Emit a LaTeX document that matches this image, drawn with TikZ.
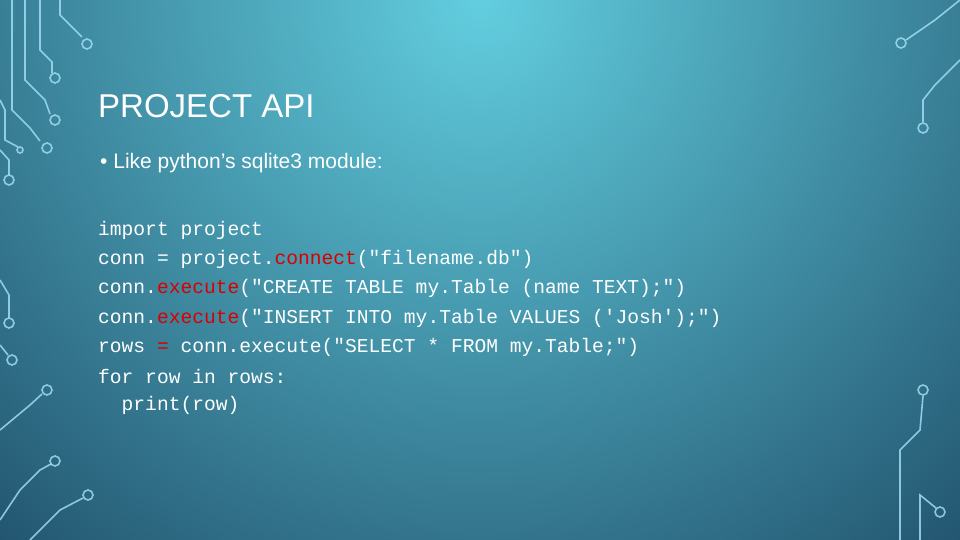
\documentclass[tikz,border=0pt]{standalone}
\usepackage{fontspec}
\setmainfont{Liberation Sans}
\setmonofont{Liberation Mono}
\begin{document}
\begin{tikzpicture}[x=1pt,y=-1pt,
  circ/.style={draw=cyan!35!white,line width=1.6pt,opacity=0.8},
  code/.style={anchor=west,inner sep=0,font=\ttfamily\fontsize{19.6}{20}\selectfont,text=white}]
\definecolor{bgtop}{HTML}{62CEDF}
\definecolor{bgbot}{HTML}{0B2846}
\colorlet{kred}{red!85!black}
\useasboundingbox (0,0) rectangle (960,540);
\clip (0,0) rectangle (960,540);
\shade[inner color=bgtop,outer color=bgbot] (-520,-1000) rectangle (1480,1000);
% left circuit lines
\begin{scope}[circ]
\draw (60,0) -- (60,15) -- (82,37);
\draw (87,44) circle (5);
\draw (40,0) -- (40,50) -- (52,62) -- (52,73);
\draw (55,78) circle (5);
\draw (25,0) -- (25,80) -- (45,100) -- (50,114);
\draw (55,120) circle (5);
\draw (12,0) -- (12,110) -- (30,128) -- (40,141);
\draw (47,148) circle (5);
\draw (0,100) -- (5,110) -- (5,140) -- (18,147);
\draw (20,150) circle (3);
\draw (0,150) -- (9,160) -- (9,175);
\draw (9,180) circle (5);
\draw (0,280) -- (9,295) -- (9,318);
\draw (9,323) circle (5);
\draw (0,345) -- (8,355);
\draw (12,360) circle (5);
\draw (0,430) -- (30,405) -- (42,394);
\draw (47,390) circle (5);
\draw (0,520) -- (20,490) -- (40,470) -- (51,464);
\draw (55,461) circle (5);
\draw (30,540) -- (60,510) -- (83,498);
\draw (88,495) circle (5);
% right
\draw (960,0) -- (935,20) -- (906,40);
\draw (901,43) circle (5);
\draw (960,60) -- (935,85) -- (923,100) -- (923,122);
\draw (923,128) circle (5);
\draw (900,540) -- (900,450) -- (920,430) -- (923,396);
\draw (923,390) circle (5);
\draw (920,540) -- (920,495) -- (936,508);
\draw (940,512) circle (5);
\end{scope}
% text
\node[anchor=west,inner sep=0,text=white,font=\fontsize{33}{34}\selectfont] (title) at (98,106) {PROJECT API};
\node[anchor=west,inner sep=0,text=white,font=\fontsize{21}{22}\selectfont] (bullet) at (100,163) {\textbullet\ Like python's sqlite3 module:};
\node[code] (l1) at (98,230) {import project};
\node[code] (l2) at (98,259) {conn = project.\textcolor{kred}{connect}("filename.db")};
\node[code] (l3) at (98,288) {conn.\textcolor{kred}{execute}("CREATE TABLE my.Table (name TEXT);")};
\node[code] (l4) at (98,318) {conn.\textcolor{kred}{execute}("INSERT INTO my.Table VALUES ('Josh');")};
\node[code] (l5) at (98,347) {rows \textcolor{kred}{=} conn.execute("SELECT * FROM my.Table;")};
\node[code] (l6) at (98,376) {for row in rows:};
\node[code] (l7) at (98,405) {\ \ print(row)};
\end{tikzpicture}
\end{document}
